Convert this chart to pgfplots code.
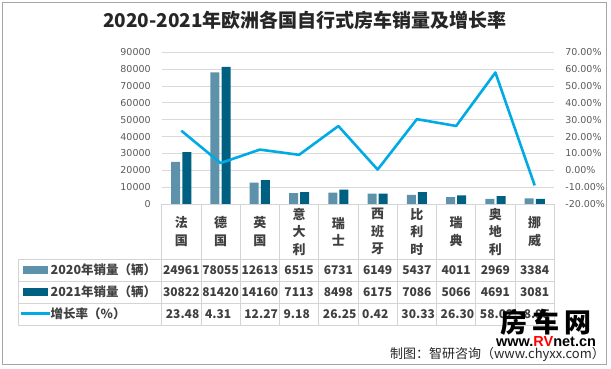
\documentclass[border=0pt]{standalone}
\usepackage{pgfplots}
\pgfplotsset{compat=1.18}
\usepackage{fontspec}
\setmainfont{Noto Sans CJK SC}
\newfontfamily\dejavu{DejaVu Sans}
\newfontfamily\libsans{Liberation Sans}
\definecolor{cA}{RGB}{94,146,170}
\definecolor{cB}{RGB}{0,96,130}
\definecolor{cline}{RGB}{0,170,228}
\definecolor{gridc}{RGB}{217,217,217}
\definecolor{tabc}{RGB}{212,212,212}
\definecolor{txt}{RGB}{64,64,64}
\definecolor{tickc}{RGB}{89,89,89}
\definecolor{framec}{RGB}{166,166,166}
\begin{document}
\begin{tikzpicture}[x=1pt,y=1pt]
\def\xL{161.7}
\def\cw{39.26}
\path (0,0) rectangle (611,368);
\draw[framec, line width=1pt] (2.5,366) rectangle (606.7,4);
\begin{axis}[at={(161.7pt,164pt)}, anchor=south west, scale only axis,
  width=392.6pt, height=151.7pt,
  xmin=-0.5, xmax=9.5, ymin=0, ymax=90000,
  ytick={0,10000,...,90000}, xtick=\empty, scaled y ticks=false,
  axis line style={draw=none}, major tick length=0pt,
  ymajorgrids, grid style={gridc, line width=0.9pt},
  /pgf/number format/1000 sep={}, /pgf/number format/assume math mode=true,
  yticklabel style={font=\dejavu\fontsize{9.5}{11}\selectfont, text=tickc, anchor=east, xshift=-7.5pt},
  ybar, bar width=9pt]
\addplot[fill=cA, draw=none, bar shift=-5.6pt] coordinates {(0,24961) (1,78055) (2,12613) (3,6515) (4,6731) (5,6149) (6,5437) (7,4011) (8,2969) (9,3384)};
\addplot[fill=cB, draw=none, bar shift=5.6pt] coordinates {(0,30822) (1,81420) (2,14160) (3,7113) (4,8498) (5,6175) (6,7086) (7,5066) (8,4691) (9,3081)};
\end{axis}
\begin{axis}[at={(161.7pt,164pt)}, anchor=south west, scale only axis,
  width=392.6pt, height=151.7pt,
  xmin=-0.5, xmax=9.5, ymin=-20, ymax=70,
  ytick={-20,-10,...,70}, xtick=\empty,
  axis y line*=right, axis x line=none,
  axis line style={draw=none}, major tick length=0pt,
  /pgf/number format/assume math mode=true,
  yticklabel={\pgfmathprintnumber[fixed,fixed zerofill,precision=2]{\tick}\%},
  yticklabel style={font=\dejavu\fontsize{9.5}{11}\selectfont, text=tickc, anchor=west, xshift=7.5pt}]
\addplot[cline, line width=2.6pt, line join=round, mark=none] coordinates {(0,23.48) (1,4.31) (2,12.27) (3,9.18) (4,26.25) (5,0.42) (6,30.33) (7,26.30) (8,58.00) (9,-8.95)};
\end{axis}
% data table
\begin{scope}[tabc, line width=0.9pt]
\draw (\xL,164) -- (554.3,164);
\foreach \yy in {108.7,87,65,43} \draw (18,\yy) -- (554.3,\yy);
\foreach \k in {0,...,10} \draw ({\xL+\k*\cw},164) -- ({\xL+\k*\cw},43);
\draw (18,108.7) -- (18,43);
\end{scope}
\foreach \n [count=\i from 0] in {{法\\国},{德\\国},{英\\国},{意\\大\\利},{瑞\\士},{西\\班\\牙},{比\\利\\时},{瑞\\典},{奥\\地\\利},{挪\\威}}
  \node[align=center, text=txt, font=\bfseries\fontsize{13}{17.5}\selectfont] at ({\xL+(\i+0.5)*\cw},136.3) {\n};
\foreach \v [count=\i from 0] in {24961,78055,12613,6515,6731,6149,5437,4011,2969,3384}
  \node[text=txt, font=\bfseries\fontsize{12}{14}\selectfont] at ({\xL+(\i+0.5)*\cw},98) {\v};
\foreach \v [count=\i from 0] in {30822,81420,14160,7113,8498,6175,7086,5066,4691,3081}
  \node[text=txt, font=\bfseries\fontsize{12}{14}\selectfont] at ({\xL+(\i+0.5)*\cw},76) {\v};
\foreach \v [count=\i from 0] in {23.48,4.31,12.27,9.18,26.25,0.42,30.33,26.30,58.02,-8.95}
  \node[text=txt, anchor=west, inner sep=0pt, font=\bfseries\fontsize{12}{14}\selectfont] at ({\xL+\i*\cw+4},54) {\v};
% legend keys
\fill[cA] (23,94) rectangle (48,102);
\fill[cB] (23,72) rectangle (48,80);
\draw[cline, line width=2.6pt] (21,54.5) -- (50,54.5);
\node[anchor=west, inner sep=0pt, text=txt, font=\bfseries\fontsize{12.5}{14}\selectfont] at (50.5,98) {2020年销量（辆）};
\node[anchor=west, inner sep=0pt, text=txt, font=\bfseries\fontsize{12.5}{14}\selectfont] at (50.5,76) {2021年销量（辆）};
\node[anchor=west, inner sep=0pt, text=txt, font=\bfseries\fontsize{12.5}{14}\selectfont] at (50.5,54.5) {增长率（\%）};
% title
\node[text={rgb,255:red,38;green,38;blue,38}, font=\bfseries\fontsize{19}{22}\selectfont] at (305,348) {2020-2021年欧洲各国自行式房车销量及增长率};
% source
\node[anchor=east, inner sep=0pt, text={rgb,255:red,38;green,38;blue,38}, font=\fontsize{13}{15}\selectfont] at (605,14) {制图：智研咨询（www.chyxx.com）};
% watermark
\node[inner sep=0pt, text=black, font=\bfseries\fontsize{27}{30}\selectfont] at (546,46) {房\hspace{5pt}车\hspace{5pt}网};
\node[inner sep=0pt, font=\libsans\bfseries\fontsize{14.5}{16}\selectfont] at (546,26) {www.\textcolor{red}{RV}net.cn};
\end{tikzpicture}
\end{document}
